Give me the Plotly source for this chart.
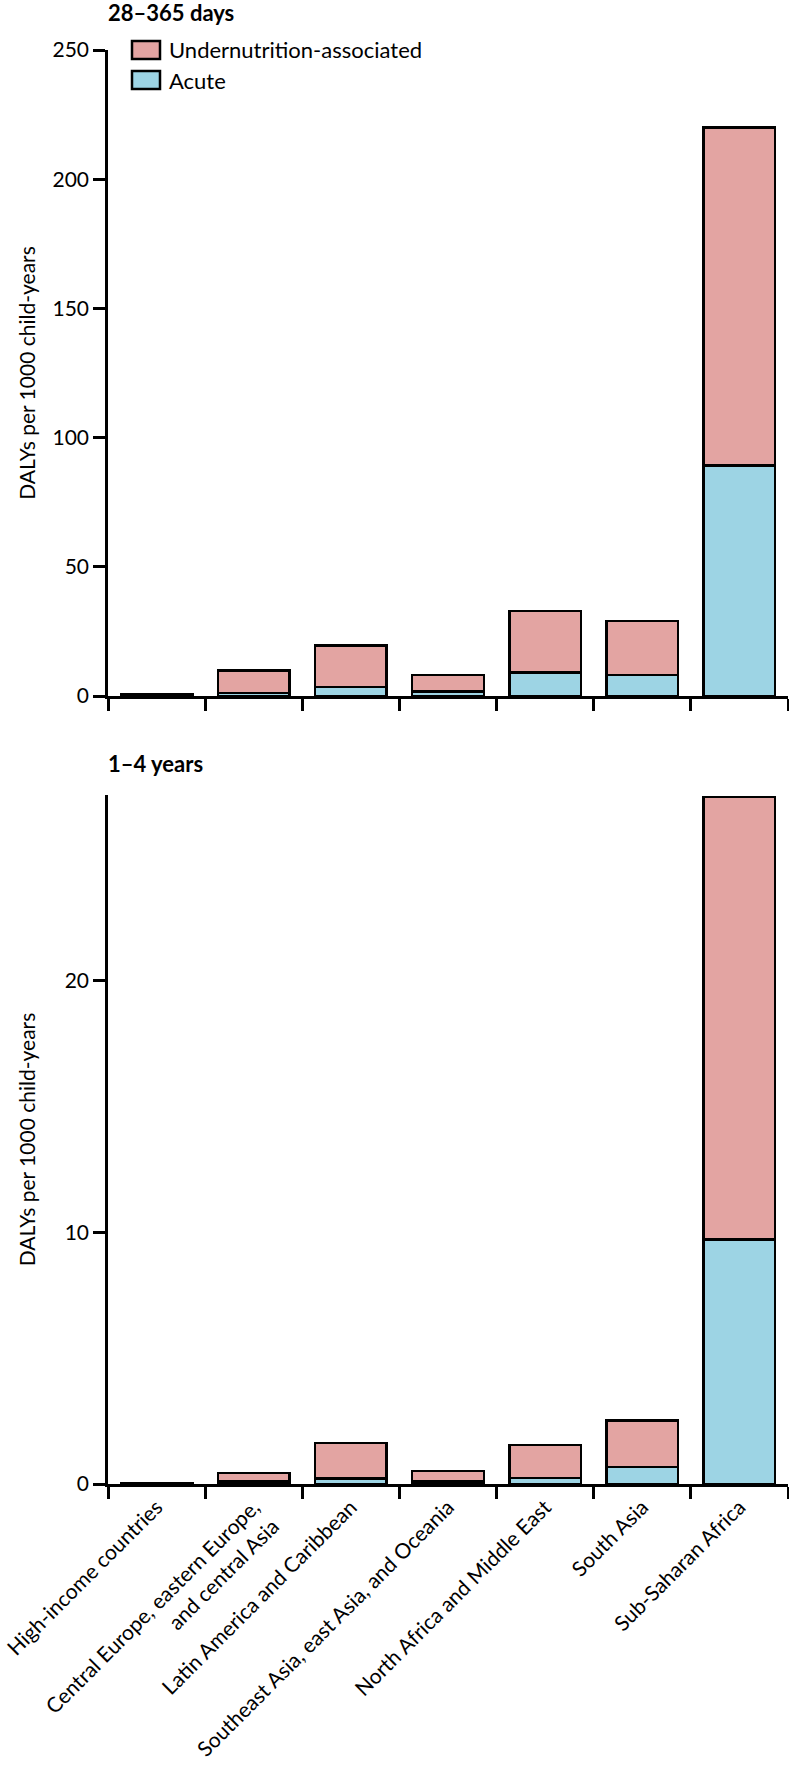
import plotly.graph_objects as go

regions = [
    "High-income countries",
    "Central Europe, eastern Europe,<br>and central Asia",
    "Latin America and Caribbean",
    "Southeast Asia, east Asia, and Oceania",
    "North Africa and Middle East",
    "South Asia",
    "Sub-Saharan Africa",
]

# 28-365 days (DALYs per 1000 child-years)
infant_acute = [0.1, 1.1, 3.4, 1.8, 9.1, 8.2, 89.2]
infant_undernutrition = [0.5, 8.8, 16.1, 6.4, 23.8, 20.8, 130.9]

# 1-4 years (DALYs per 1000 child-years)
child_acute = [0.01, 0.10, 0.21, 0.09, 0.23, 0.68, 9.71]
child_undernutrition = [0.03, 0.34, 1.42, 0.42, 1.31, 1.85, 17.59]

top_ticks = [0, 50, 100, 150, 200, 250]
bottom_ticks = [0, 10, 20]

panel_titles = ["28\u2013365 days", "1\u20134 years"]
y_title = "DALYs per 1000 child-years"
legend_labels = ["Undernutrition-associated", "Acute"]

PINK = "#E3A4A2"
BLUE = "#9DD4E4"
FONT = "Lato"
W, H = 789, 1770
L, R = 108, 1
PW = W - L - R

fig = go.Figure()

line = dict(color="black", width=2.5)
fig.add_trace(go.Bar(x=regions, y=infant_acute, name=legend_labels[1],
                     marker=dict(color=BLUE, line=line), xaxis="x", yaxis="y"))
fig.add_trace(go.Bar(x=regions, y=infant_undernutrition, name=legend_labels[0],
                     marker=dict(color=PINK, line=line), xaxis="x", yaxis="y"))
fig.add_trace(go.Bar(x=regions, y=child_acute, name=legend_labels[1],
                     marker=dict(color=BLUE, line=line), xaxis="x2", yaxis="y2"))
fig.add_trace(go.Bar(x=regions, y=child_undernutrition, name=legend_labels[0],
                     marker=dict(color=PINK, line=line), xaxis="x2", yaxis="y2"))


def py(px):
    return 1 - px / H


def pxx(px):
    return (px - L) / PW


axis_common = dict(showline=True, linecolor="black", linewidth=2.5, ticks="outside",
                   ticklen=12, tickwidth=2.5, tickcolor="black", showgrid=False,
                   zeroline=False, automargin=False)
y_font = dict(family=FONT, size=21, color="black")
x_font = dict(family=FONT, size=21, color="black")
title_font = dict(family=FONT, size=21, color="black")

# legend drawn as boxes + text (matches the reference's wide swatches)
shapes = []
annotations = []
legend_rows = [(legend_labels[0], PINK, 50), (legend_labels[1], BLUE, 80)]
for label, color, yc in legend_rows:
    shapes.append(dict(type="rect", xref="paper", yref="paper",
                       x0=pxx(132), x1=pxx(160), y0=py(yc + 9), y1=py(yc - 9),
                       fillcolor=color, line=dict(color="black", width=2.5)))
    annotations.append(dict(text=label, x=pxx(167), y=py(yc), xref="paper", yref="paper",
                            xanchor="left", yanchor="middle", showarrow=False,
                            font=dict(family=FONT, size=22, color="black")))

annotations.append(dict(text="<b>%s</b>" % panel_titles[0], x=pxx(106), y=py(12),
                        xref="paper", yref="paper", xanchor="left", yanchor="middle",
                        showarrow=False, font=dict(family=FONT, size=22, color="black")))
annotations.append(dict(text="<b>%s</b>" % panel_titles[1], x=pxx(106), y=py(763),
                        xref="paper", yref="paper", xanchor="left", yanchor="middle",
                        showarrow=False, font=dict(family=FONT, size=22, color="black")))

fig.update_layout(
    width=W, height=H,
    margin=dict(l=L, r=R, t=0, b=0),
    paper_bgcolor="white", plot_bgcolor="white",
    barmode="stack", bargap=0.263,
    font=dict(family=FONT, size=21, color="black"),
    showlegend=False,
    xaxis=dict(domain=[0, 1], anchor="y", type="category", tickson="boundaries",
               showticklabels=False, range=[-0.5, 6.5], **axis_common),
    yaxis=dict(domain=[py(696), py(50)], anchor="x", range=[0, 250], tickvals=top_ticks,
               tickfont=y_font,
               title=dict(text=y_title, standoff=12, font=title_font),
               **axis_common),
    xaxis2=dict(domain=[0, 1], anchor="y2", type="category", tickson="boundaries",
                tickangle=-45, range=[-0.5, 6.5], tickfont=x_font, **axis_common),
    yaxis2=dict(domain=[py(1484), py(795)], anchor="x2", range=[0, 27.37], tickvals=bottom_ticks,
                tickfont=y_font,
                title=dict(text=y_title, standoff=24, font=title_font),
                **axis_common),
    shapes=shapes,
    annotations=annotations,
)

fig.write_html("out.html", config={"displayModeBar": False})

with open("out.html", encoding="utf-8") as f:
    html = f.read()
html = html.replace("<head>", "<head><style>html,body{margin:0;padding:0;overflow:hidden;}</style>", 1)
with open("out.html", "w", encoding="utf-8") as f:
    f.write(html)
